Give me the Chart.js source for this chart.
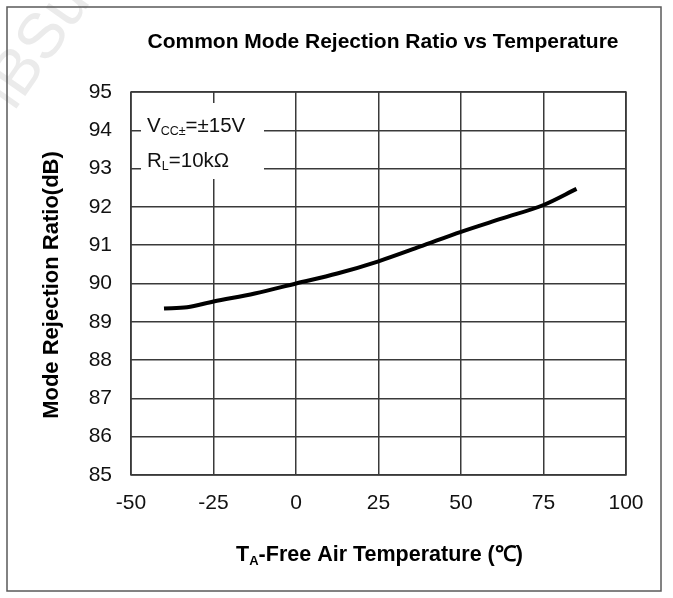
<!DOCTYPE html>
<html>
<head>
<meta charset="utf-8">
<script src="https://cdn.jsdelivr.net/npm/chart.js@4/dist/chart.umd.min.js"></script>
<style>
  html, body { margin: 0; padding: 0; background: #fff; }
  #wrap { width: 673px; height: 598px; position: relative; }
</style>
</head>
<body>
<div id="wrap"><canvas id="c" width="673" height="598"></canvas></div>
<script>
// ---- data ----
const temperatures = [-40, -33, -25, -12.5, 0, 12.5, 25, 37.5, 50, 62.5, 75, 85];
const cmrrValues   = [89.35, 89.38, 89.53, 89.74, 90.0, 90.26, 90.58, 90.96, 91.35, 91.70, 92.05, 92.47];
const xTickValues  = [-50, -25, 0, 25, 50, 75, 100];
const yTickValues  = [85, 86, 87, 88, 89, 90, 91, 92, 93, 94, 95];
const chartTitle   = 'Common Mode Rejection Ratio vs Temperature';
const yAxisTitle   = 'Mode Rejection Ratio(dB)';
const xAxisTitle   = ['T', 'A', '-Free Air Temperature (\u2103)'];
const legendLines  = [['V', 'CC\u00b1', '=\u00b115V'], ['R', 'L', '=10k\u03a9']];

const FONT = '"Liberation Sans", Arial, sans-serif';
const gridColor = '#3a3a3a';

const decorPlugin = {
  id: 'decor',
  beforeDraw(chart) {
    const ctx = chart.ctx;
    ctx.save();
    ctx.fillStyle = '#fff';
    ctx.fillRect(0, 0, chart.width, chart.height);
    // faint watermark
    ctx.translate(14, 112);
    ctx.rotate(-55 * Math.PI / 180);
    ctx.font = '64px ' + FONT;
    ctx.fillStyle = '#ebebeb';
    ctx.fillText('iBSu', 0, 0);
    ctx.restore();
  },
  beforeDatasetsDraw(chart) {
    const ctx = chart.ctx;
    ctx.save();
    // legend box (white) covering grid
    ctx.fillStyle = '#fff';
    ctx.fillRect(141, 103, 123, 76);
    ctx.fillStyle = '#111';
    ctx.textBaseline = 'alphabetic';
    ctx.textAlign = 'left';
    const bases = [132, 167];
    legendLines.forEach((parts, i) => {
      let x = 147;
      ctx.font = '20.5px ' + FONT;
      ctx.fillText(parts[0], x, bases[i]);
      x += ctx.measureText(parts[0]).width;
      ctx.font = '12.5px ' + FONT;
      ctx.fillText(parts[1], x, bases[i] + 3);
      x += ctx.measureText(parts[1]).width;
      ctx.font = '20.5px ' + FONT;
      ctx.fillText(parts[2], x, bases[i]);
    });
    ctx.restore();
  },
  afterDraw(chart) {
    const ctx = chart.ctx;
    const a = chart.chartArea;
    ctx.save();
    // plot border
    ctx.strokeStyle = gridColor;
    ctx.lineWidth = 1.5;
    ctx.strokeRect(a.left, a.top, a.right - a.left, a.bottom - a.top);
    // outer frame
    ctx.strokeStyle = '#5a5a5a';
    ctx.lineWidth = 1.5;
    ctx.strokeRect(7, 7, 654, 584);
    // title
    ctx.fillStyle = '#000';
    ctx.font = 'bold 21px ' + FONT;
    ctx.textAlign = 'center';
    ctx.textBaseline = 'alphabetic';
    ctx.fillText(chartTitle, 383, 48);
    // y title
    ctx.save();
    ctx.translate(58, 285);
    ctx.rotate(-Math.PI / 2);
    ctx.font = 'bold 22px ' + FONT;
    ctx.fillText(yAxisTitle, 0, 0);
    ctx.restore();
    // x title with subscript
    ctx.textAlign = 'left';
    ctx.font = 'bold 21.5px ' + FONT;
    const w0 = ctx.measureText(xAxisTitle[0]).width;
    const w2 = ctx.measureText(xAxisTitle[2]).width;
    ctx.font = 'bold 13px ' + FONT;
    const w1 = ctx.measureText(xAxisTitle[1]).width;
    let x = 379.5 - (w0 + w1 + w2) / 2;
    const by = 560.5;
    ctx.font = 'bold 21.5px ' + FONT;
    ctx.fillText(xAxisTitle[0], x, by);
    x += w0;
    ctx.font = 'bold 13px ' + FONT;
    ctx.fillText(xAxisTitle[1], x, by + 4);
    x += w1;
    ctx.font = 'bold 21.5px ' + FONT;
    ctx.fillText(xAxisTitle[2], x, by);
    ctx.restore();
  }
};

new Chart(document.getElementById('c'), {
  type: 'line',
  data: {
    datasets: [{
      data: temperatures.map((t, i) => ({ x: t, y: cmrrValues[i] })),
      borderColor: '#000',
      borderWidth: 4,
      pointRadius: 0,
      cubicInterpolationMode: 'monotone',
      fill: false
    }]
  },
  options: {
    responsive: false,
    animation: false,
    events: [],
    layout: { padding: { left: 0, top: 92, right: 47, bottom: 0 } },
    plugins: { legend: { display: false }, title: { display: false }, tooltip: { enabled: false } },
    scales: {
      x: {
        type: 'linear',
        min: -50, max: 100,
        afterFit(s) { s.height = 123; },
        afterBuildTicks(s) { s.ticks = xTickValues.map(v => ({ value: v })); },
        grid: { color: gridColor, lineWidth: 1.5, drawTicks: false },
        border: { display: false },
        ticks: { color: '#111', padding: 16, maxRotation: 0, autoSkip: false,
                 font: { family: FONT, size: 21 } }
      },
      y: {
        type: 'linear',
        min: 85, max: 95,
        afterFit(s) { s.width = 131; },
        afterBuildTicks(s) { s.ticks = yTickValues.map(v => ({ value: v })); },
        grid: { color: gridColor, lineWidth: 1.5, drawTicks: false },
        border: { display: false },
        ticks: { color: '#111', padding: 19, autoSkip: false,
                 font: { family: FONT, size: 21 } }
      }
    }
  },
  plugins: [decorPlugin]
});
</script>
</body>
</html>
